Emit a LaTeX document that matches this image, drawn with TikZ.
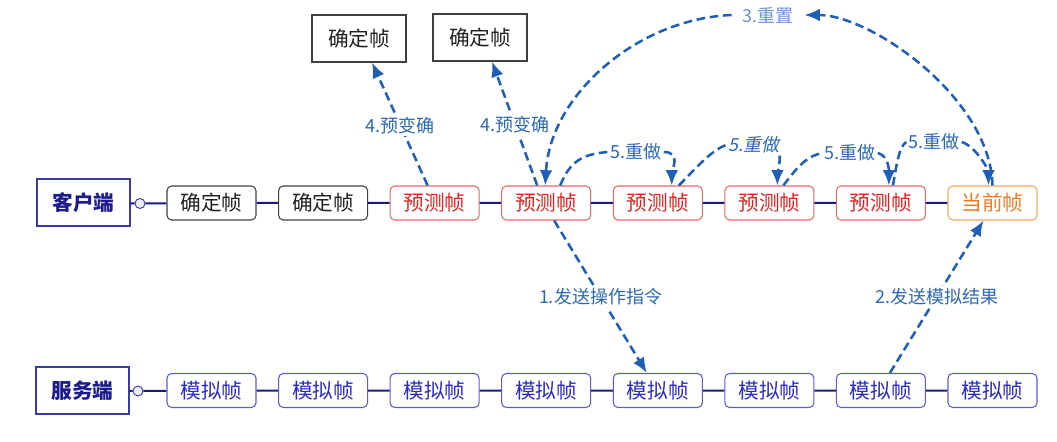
\documentclass[tikz,border=0pt]{standalone}
\usepackage{fontspec}
\setmainfont{Noto Sans CJK SC}
\newfontfamily\slantfont[FakeSlant=0.2]{Noto Sans CJK SC}
\usetikzlibrary{arrows.meta,calc}
\definecolor{confline}{HTML}{404040}
\definecolor{conftext}{HTML}{202020}
\definecolor{predline}{HTML}{E26A6A}
\definecolor{predtext}{HTML}{E42222}
\definecolor{curline}{HTML}{F4A868}
\definecolor{curtext}{HTML}{F07A22}
\definecolor{simline}{HTML}{5A5AE6}
\definecolor{simtext}{HTML}{2B2BC8}
\definecolor{mainline}{HTML}{3A3AA0}
\definecolor{maintext}{HTML}{1C1C8C}
\definecolor{connline}{HTML}{1A1A80}
\definecolor{arrowblue}{HTML}{1F5FB8}
\definecolor{lbltext}{HTML}{2D68B4}
\definecolor{lbllight}{HTML}{6A92CC}
\begin{document}
\begin{tikzpicture}[x=0.75pt,y=-0.75pt,
  frame/.style={rounded corners=3.5pt,line width=0.8pt,minimum width=66.75pt,minimum height=25.5pt,inner sep=0pt,font=\fontsize{15.5}{17}\selectfont},
  conf/.style={frame,draw=confline,text=conftext},
  pred/.style={frame,draw=predline,text=predtext},
  curf/.style={frame,draw=curline,text=curtext},
  sim/.style={frame,draw=simline,text=simtext},
  topconf/.style={draw=confline,line width=0.8pt,text=conftext,minimum width=70.5pt,minimum height=35.25pt,inner sep=0pt,font=\fontsize{15.5}{17}\selectfont},
  mainbox/.style={draw=mainline,line width=0.9pt,text=maintext,minimum width=69.75pt,minimum height=35.25pt,inner sep=0pt,font=\fontsize{15.5}{17}\selectfont\bfseries},
  circ/.style={circle,draw=mainline,fill=mainline!10,line width=0.7pt,minimum size=7.5pt,inner sep=0pt},
  conn/.style={draw=connline,line width=1.5pt},
  arr/.style={draw=arrowblue,line width=1.9pt,dash pattern=on 6.5pt off 3.5pt,-{Latex[length=11.5pt,width=9.5pt]}},
  arrn/.style={draw=arrowblue,line width=1.9pt,dash pattern=on 6.5pt off 3.5pt},
  lbl/.style={text=lbltext,font=\fontsize{13.5}{15}\selectfont,fill=white,inner sep=2pt},
  lblr/.style={text=lbltext,font=\fontsize{13.5}{15}\selectfont,inner sep=1.5pt},
]
\useasboundingbox (0,0) rectangle (1057,442);
% client row
\node[mainbox] (client) at (83.5,202.5) {客户端};
\node[circ] (cc) at (140,203.5) {};
\node[conf] (c1) at (211.5,203) {确定帧};
\node[conf] (c2) at (323.1,203) {确定帧};
\node[pred] (p1) at (434.6,203) {预测帧};
\node[pred] (p2) at (546.2,203) {预测帧};
\node[pred] (p3) at (657.8,203) {预测帧};
\node[pred] (p4) at (769.4,203) {预测帧};
\node[pred] (p5) at (880.9,203) {预测帧};
\node[curf] (cur) at (992.5,203) {当前帧};
\draw[conn] (client) -- (cc) -- (c1) -- (c2) -- (p1) -- (p2) -- (p3) -- (p4) -- (p5) -- (cur);
% server row
\node[mainbox] (server) at (82.5,390.5) {服务端};
\node[circ] (sc) at (138,391) {};
\node[sim] (s1) at (211.5,390.5) {模拟帧};
\node[sim] (s2) at (323.1,390.5) {模拟帧};
\node[sim] (s3) at (434.6,390.5) {模拟帧};
\node[sim] (s4) at (546.2,390.5) {模拟帧};
\node[sim] (s5) at (657.8,390.5) {模拟帧};
\node[sim] (s6) at (769.4,390.5) {模拟帧};
\node[sim] (s7) at (880.9,390.5) {模拟帧};
\node[sim] (s8) at (992.5,390.5) {模拟帧};
\draw[conn] (server) -- (sc) -- (s1) -- (s2) -- (s3) -- (s4) -- (s5) -- (s6) -- (s7) -- (s8);
% top confirmed frames
\node[topconf] (t1) at (359,38.5) {确定帧};
\node[topconf] (t2) at (480,37.5) {确定帧};
% 4. arrows
\draw[arr] ($(p1.north)+(-7,0)$) -- ($(t1.south)+(13,0)$) node[lbl,pos=0.49] (l4a) {4.预变确};
\draw[arr] ($(p2.north)+(-9,0)$) -- ($(t2.south)+(12,0)$) node[lbl,pos=0.49] (l4b) {4.预变确};
% 1. and 2.
\draw[arr] ($(p2.south)+(8,0)$) -- ($(s5.north)+(-11,0)$) node[lbl,pos=0.5] (l1) {1.发送操作指令};
\draw[arr] ($(s7.north)+(9,0)$) -- ($(cur.south)+(-9,0)$) node[lbl,pos=0.5] (l2) {2.发送模拟结果};
% 3. reset
\node[text=lbllight,font=\fontsize{13.5}{15}\selectfont,inner xsep=8pt,inner ysep=2pt] (reset) at (768,15) {3.重置};
\draw[arr] (cur.north) .. controls +(-2,-87) and +(67,0) .. (reset.east);
\draw[arr] (reset.west) .. controls +(-95,4) and +(5,-90) .. ($(p2.north)+(-1,0)$);
% 5. redo
\node[lblr] (r1) at (636,152) {5.重做};
\node[lblr,font=\fontsize{13.5}{15}\selectfont\slantfont] (r2) at (754,145) {5.重做};
\node[lblr] (r3) at (850,153) {5.重做};
\node[lblr] (r4) at (934,142) {5.重做};
\draw[arrn] ($(p2.north)+(14,0)$) .. controls +(10,-25) and +(-25,2) .. (r1.west);
\draw[arr] (r1.east) .. controls +(18,0) and +(0,-15) .. ($(p3.north)+(14,0)$);
\draw[arrn] ($(p3.north)+(21,0)$) .. controls +(15,-15) and +(-15,5) .. (r2.west);
\draw[arr] ($(r2.south east)+(-2,0)$) .. controls +(0,10) and +(0,-10) .. ($(p4.north)+(8,0)$);
\draw[arrn] ($(p4.north)+(14,0)$) .. controls +(15,-20) and +(-15,3) .. (r3.west);
\draw[arr] (r3.east) .. controls +(12,3) and +(0,-12) .. ($(p5.north)+(8,0)$);
\draw[arrn] ($(p5.north)+(12,0)$) .. controls +(3,-15) and +(-8,5) .. (r4.west);
\draw[arr] (r4.east) .. controls +(15,5) and +(0,-15) .. ($(cur.north)+(-4,0)$);
\end{tikzpicture}
\end{document}
